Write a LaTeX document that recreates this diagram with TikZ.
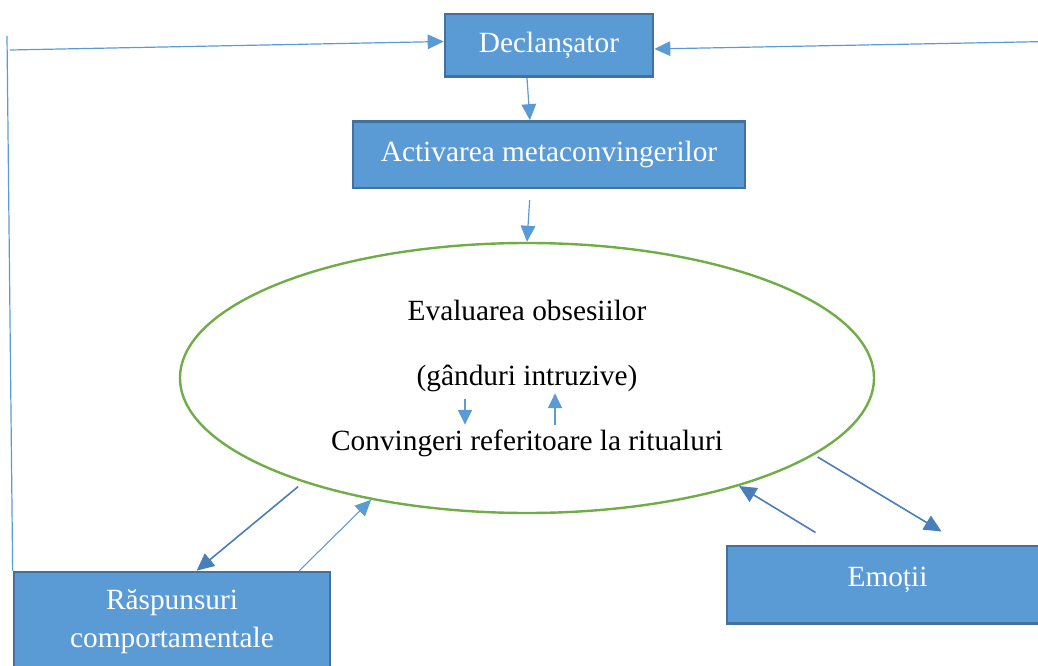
\documentclass[tikz,border=0pt]{standalone}
\usepackage{fontspec}
\setmainfont{Liberation Serif}
\usetikzlibrary{arrows.meta,positioning,shapes.geometric}

\definecolor{boxblue}{HTML}{5B9BD5}
\definecolor{boxedge}{HTML}{41719C}
\definecolor{linkblue}{HTML}{5B9BD5}
\definecolor{darklink}{HTML}{4A7EBB}
\definecolor{ovalgreen}{HTML}{70AD47}

\begin{document}
\begin{tikzpicture}[
  x=0.75pt, y=-0.75pt,
  stagebox/.style={draw=boxedge, line width=2pt, fill=boxblue, text=white, align=center, font=\fontsize{22}{28.5}\selectfont},
  inside/.style={anchor=base, font=\fontsize{22}{26}\selectfont},
  link/.style={draw=linkblue, line width=0.9pt, -{Triangle[length=12pt,width=11pt]}},
  smalllink/.style={draw=linkblue, line width=0.9pt, -{Triangle[length=11pt,width=10.5pt]}},
  darkarrow/.style={draw=darklink, line width=1.2pt, -{Triangle[length=13pt,width=12pt]}}
]

\useasboundingbox (0,0) rectangle (1038,666);

\node[stagebox, minimum width=156pt, minimum height=47pt] (decl) at (549,45.5) {Declanșator};
\node[stagebox, minimum width=294pt, minimum height=50pt, below=31.5pt of decl] (act) {Activarea metaconvingerilor};

\node[draw=ovalgreen, line width=1.8pt, ellipse, inner sep=0pt, minimum width=520.5pt, minimum height=202.5pt] (eval) at (527,378) {};
\node[inside] (obses) at (527,321) {Evaluarea obsesiilor};
\node[inside] (intruz) at (527,385) {(gânduri intruzive)};
\node[inside] (ritual) at (527,450) {Convingeri referitoare la ritualuri};

\node[stagebox, minimum width=237pt, minimum height=75pt] (rasp) at (172,622) {Răspunsuri\\comportamentale};
\node[stagebox, minimum width=241pt, minimum height=58pt, text height=15pt, text depth=12.75pt] (emot) at (887.5,584.5) {Emoții};

\coordinate (loopTop) at (7,36);
\coordinate (loopStart) at (10,50);
\coordinate (loopRight) at (1038,41.7);
\coordinate (dncol) at (465,0);
\coordinate (upcol) at (555,0);

% bucla exterioara
\draw[draw=linkblue, line width=0.9pt] (rasp.north west) -- (loopTop);
\draw[link] (loopStart) -- ([yshift=3pt]decl.west);
\draw[link] (loopRight) -- ([yshift=-2.6pt]decl.east);

\draw[link] ([xshift=-16.5pt]decl.south) -- ([xshift=-14.3pt]act.north);
\draw[link] ([xshift=-14.5pt, yshift=-8pt]act.south) -- (eval.north);

\draw[smalllink] ([yshift=-2pt]intruz.south -| dncol) -- (ritual.north -| dncol);
\draw[smalllink] (ritual.north -| upcol) -- ([yshift=2pt]intruz.south -| upcol);

\draw[darkarrow, shorten <=5pt] (eval.205) -- ([xshift=138pt]rasp.north west);
\draw[link, line width=0.8pt] ([xshift=-24pt]rasp.north east) -- (eval.218);
\draw[darkarrow] ([xshift=67.5pt, yshift=9pt]emot.north west) -- (eval.333);
\draw[darkarrow, shorten <=3pt] (eval.345) -- ([xshift=162pt, yshift=9.75pt]emot.north west);

\end{tikzpicture}
\end{document}
